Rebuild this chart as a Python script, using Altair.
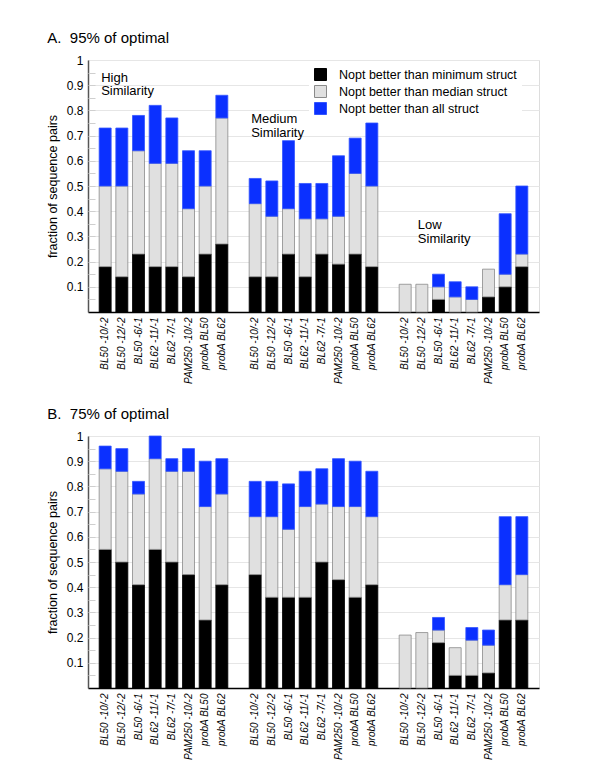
import altair as alt
import pandas as pd

labels = ["BL50 -10/-2", "BL50 -12/-2", "BL50 -6/-1", "BL62 -11/-1",
          "BL62 -7/-1", "PAM250 -10/-2", "probA BL50", "probA BL62"]
groups = ["High", "Medium", "Low"]
levels = ["Nopt better than minimum struct",
          "Nopt better than median struct",
          "Nopt better than all struct"]

# Panel A (95% of optimal): cumulative tops, 8 bars per group: High, Medium, Low
A_min = [0.18, 0.14, 0.23, 0.18, 0.18, 0.14, 0.23, 0.27,
         0.14, 0.14, 0.23, 0.14, 0.23, 0.19, 0.23, 0.18,
         0.00, 0.00, 0.05, 0.00, 0.00, 0.06, 0.10, 0.18]
A_med = [0.50, 0.50, 0.64, 0.59, 0.59, 0.41, 0.50, 0.77,
         0.43, 0.38, 0.41, 0.37, 0.37, 0.38, 0.55, 0.50,
         0.11, 0.11, 0.10, 0.06, 0.05, 0.17, 0.15, 0.23]
A_all = [0.73, 0.73, 0.78, 0.82, 0.77, 0.64, 0.64, 0.86,
         0.53, 0.52, 0.68, 0.51, 0.51, 0.62, 0.69, 0.75,
         0.11, 0.11, 0.15, 0.12, 0.10, 0.17, 0.39, 0.50]

# Panel B (75% of optimal)
B_min = [0.55, 0.50, 0.41, 0.55, 0.50, 0.45, 0.27, 0.41,
         0.45, 0.36, 0.36, 0.36, 0.50, 0.43, 0.36, 0.41,
         0.00, 0.00, 0.18, 0.05, 0.05, 0.06, 0.27, 0.27]
B_med = [0.87, 0.86, 0.77, 0.91, 0.86, 0.86, 0.72, 0.77,
         0.68, 0.68, 0.63, 0.72, 0.73, 0.72, 0.72, 0.68,
         0.21, 0.22, 0.23, 0.16, 0.19, 0.17, 0.41, 0.45]
B_all = [0.96, 0.95, 0.82, 1.00, 0.91, 0.95, 0.90, 0.91,
         0.82, 0.82, 0.81, 0.86, 0.87, 0.91, 0.90, 0.86,
         0.21, 0.22, 0.28, 0.16, 0.24, 0.23, 0.68, 0.68]

y_ticks = [0.1, 0.2, 0.3, 0.4, 0.5, 0.6, 0.7, 0.8, 0.9, 1.0]
minor_ticks = [0.05, 0.1, 0.15, 0.2, 0.25, 0.3, 0.35, 0.4, 0.45, 0.5,
               0.55, 0.6, 0.65, 0.7, 0.75, 0.8, 0.85, 0.9, 0.95]
group_text = [["High", "Similarity"], ["Medium", "Similarity"], ["Low", "Similarity"]]

rows = []
for panel, series in (("A", (A_min, A_med, A_all)), ("B", (B_min, B_med, B_all))):
    mn, md, al = series
    for gi, g in enumerate(groups):
        for li, lab in enumerate(labels):
            k = gi * 8 + li
            key = f"{g}|{lab}"
            for lev, lo, hi in ((levels[0], 0.0, mn[k]), (levels[1], mn[k], md[k]), (levels[2], md[k], al[k])):
                if hi > lo:
                    rows.append({"panel": panel, "key": key, "level": lev, "y0": lo, "y1": hi})
df = pd.DataFrame(rows)

xdom = ([f"High|{l}" for l in labels] + ["gap1"] +
        [f"Medium|{l}" for l in labels] + ["gap2"] +
        [f"Low|{l}" for l in labels])

ann = pd.DataFrame({
    "key": ["High|BL50 -10/-2", "Medium|BL50 -10/-2", "Low|BL50 -12/-2"],
    "y": [0.93, 0.765, 0.345],
    "text": group_text,
})

FONT = "Liberation Sans"
BLUE = "#0b30ff"

x_scale = alt.Scale(domain=xdom, paddingInner=0.28, paddingOuter=0.67)
x_axis = alt.Axis(title=None, labelAngle=270, ticks=False,
                  labelFont=FONT, labelFontStyle="italic", labelFontSize=10,
                  labelPadding=5, labelColor="black",
                  domainColor="black", domainWidth=1.5,
                  labelExpr="indexof(datum.label,'|') >= 0 ? split(datum.label,'|')[1] : ''")
y_scale = alt.Scale(domain=[0, 1])
y_axis = alt.Axis(title="fraction of sequence pairs", values=y_ticks,
                  format="~g", ticks=False, labelPadding=5, titlePadding=7,
                  titleFontSize=12.5, titleFontWeight="normal", labelFontSize=12,
                  labelColor="black", titleColor="black", labelOverlap=False,
                  domainColor="#555", domainWidth=1.5,
                  gridColor="#e6e6e6")
minor_axis = alt.Axis(title=None, orient="left", values=minor_ticks, labels=False,
                      domain=False, grid=False, ticks=True, tickSize=7,
                      tickColor="#cfcfcf", tickWidth=1, offset=-7)


def panel(p, title, with_groups, with_legend):
    base = alt.Chart(df[df.panel == p])
    legend = None
    if with_legend:
        legend = alt.Legend(title=None, orient="none", legendX=221, legendY=3,
                            fillColor="white", padding=5, symbolType="square",
                            symbolSize=144, labelFontSize=12.5, rowPadding=0,
                            labelLimit=400,
                            symbolStrokeColor="#888", symbolStrokeWidth=1,
                            labelOffset=12)
    minor = base.mark_point(opacity=0).encode(
        y=alt.Y("y1:Q", scale=y_scale, axis=minor_axis),
    )
    bars = base.mark_bar(strokeWidth=0.8).encode(
        x=alt.X("key:N", scale=x_scale, axis=x_axis),
        y=alt.Y("y1:Q", scale=y_scale, axis=y_axis),
        y2="y0:Q",
        color=alt.Color("level:N", scale=alt.Scale(domain=levels, range=["#000000", "#e0e0e0", BLUE]),
                        legend=legend),
        stroke=alt.Stroke("level:N", scale=alt.Scale(domain=levels, range=["#000000", "#8a8a8a", "#3355ff"]),
                          legend=None),
    )
    layers = [bars]
    if with_groups:
        txt = alt.Chart(ann).mark_text(align="left", baseline="middle", fontSize=13,
                                       font=FONT, dx=2, lineHeight=13.5, color="black").encode(
            x=alt.X("key:N", bandPosition=0, scale=x_scale, axis=x_axis),
            y=alt.Y("y:Q", scale=y_scale, axis=y_axis),
            text="text",
        )
        layers.append(txt)
    main = alt.layer(*layers)
    return alt.layer(main, minor).resolve_axis(y="independent").properties(
        width=451, height=252,
        title=alt.TitleParams(title, anchor="start", frame="bounds", fontSize=15,
                              fontWeight="normal", font=FONT, dx=1, offset=8, color="black"),
    )


chart = alt.vconcat(
    panel("A", "A.\u00a0 95% of optimal", True, True),
    panel("B", "B.\u00a0 75% of optimal", False, False),
    spacing=21,
).properties(
    padding={"left": 37, "top": 22, "right": 5, "bottom": 5},
).configure_view(
    stroke="#777", strokeWidth=1.5
).configure(
    font=FONT
)

chart.save("out.html", embed_options={"renderer": "svg", "actions": False})
